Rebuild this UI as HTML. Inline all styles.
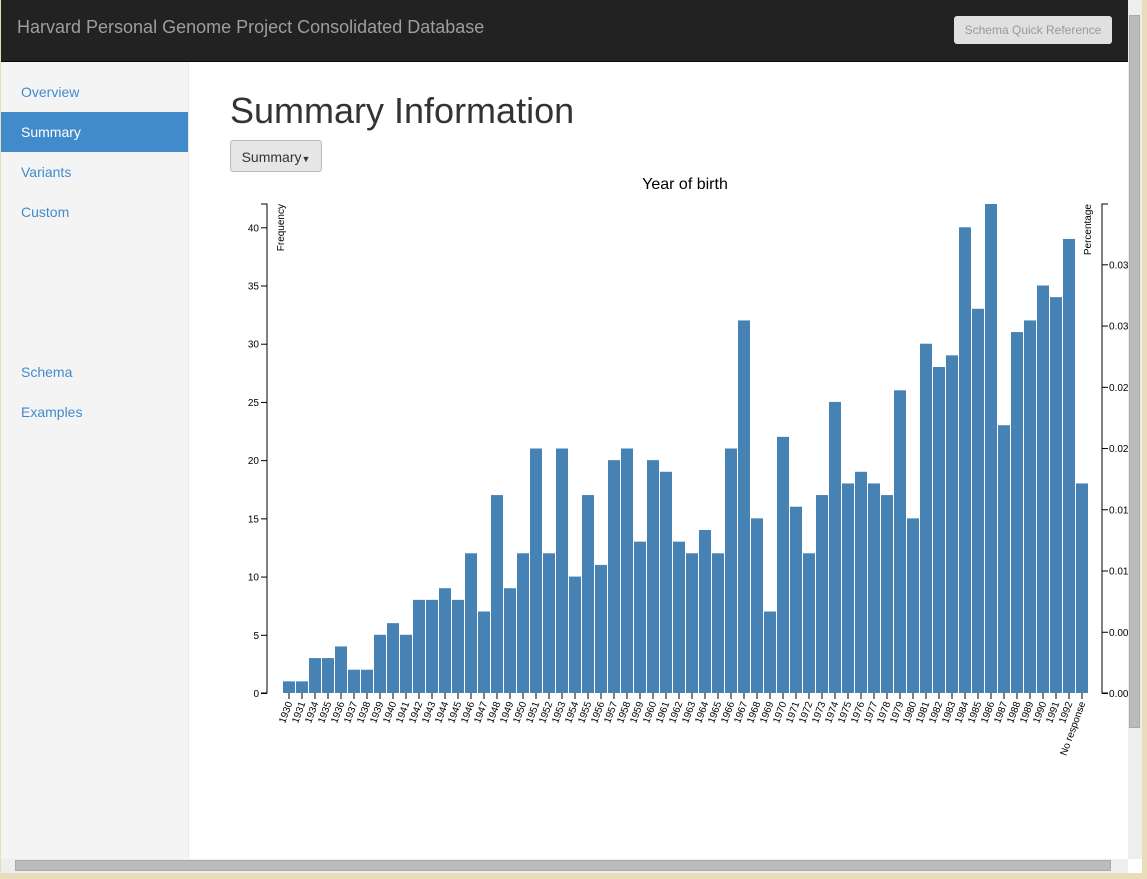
<!DOCTYPE html>
<html><head><meta charset="utf-8"><style>
body{margin:0;width:1147px;height:879px;overflow:hidden;font-family:"Liberation Sans",sans-serif;background:#e9dcb8;position:relative}
#win{position:absolute;left:0;top:0;width:1141px;height:873px;background:#fff;overflow:hidden;border-left:1px solid #e9dcb8}
#nav{position:absolute;left:0;top:0;width:1127px;height:61px;background:#222;border-bottom:1px solid #080808}
#brand{position:absolute;left:16px;top:17px;color:#9d9d9d;font-size:18px}
#sqr{position:absolute;left:953px;top:16px;width:158px;height:28px;background:#e0e0e0;border-radius:3px;color:#999;font-size:12px;line-height:29px;text-align:center}
#side{position:absolute;left:0;top:62px;width:187px;height:797px;background:#f4f4f4;border-right:1px solid #e8e8e8}
.nl{position:absolute;left:0;width:187px;height:40px;line-height:40px;padding-left:20px;box-sizing:border-box;color:#428bca;font-size:14px}
.act{background:#428bca;color:#fff}
h1{position:absolute;left:229px;top:90px;margin:0;font-weight:400;font-size:36px;color:#333}
#dd{position:absolute;left:229px;top:140px;width:92px;height:32px;border:1px solid #bbb;border-radius:3px;background:#e6e6e6;font-size:14px;line-height:32px;text-align:center;color:#333;box-sizing:border-box}
#vs{position:absolute;left:1127px;top:0;width:14px;height:859px;background:#eee}
#vthumb{position:absolute;left:1128px;top:15px;width:11px;height:713px;background:#bbb;border:1px solid #aaa;box-sizing:border-box}
#hs{position:absolute;left:0;top:859px;width:1127px;height:14px;background:#eee}
#hthumb{position:absolute;left:14px;top:860px;width:1096px;height:11px;background:#bbb;border:1px solid #aaa;box-sizing:border-box}
svg{position:absolute;left:0;top:0}
</style></head><body>
<div id="win">
<div id="nav"><div id="brand">Harvard Personal Genome Project Consolidated Database</div><div id="sqr">Schema Quick Reference</div></div>
<div id="side">
<div class="nl" style="top:10px">Overview</div>
<div class="nl act" style="top:50px">Summary</div>
<div class="nl" style="top:90px">Variants</div>
<div class="nl" style="top:130px">Custom</div>
<div class="nl" style="top:290px">Schema</div>
<div class="nl" style="top:330px">Examples</div>
</div>
<h1>Summary Information</h1>
<div id="dd">Summary<span style="font-size:9px">▼</span></div>
<svg id="chart" width="1127" height="859"></svg>
<div id="vs"></div><div id="vthumb"></div>
<div id="hs"></div><div id="hthumb"></div>
</div>
<script>
const categories=["1930","1931","1934","1935","1936","1937","1938","1939","1940","1941","1942","1943","1944","1945","1946","1947","1948","1949","1950","1951","1952","1953","1954","1955","1956","1957","1958","1959","1960","1961","1962","1963","1964","1965","1966","1967","1968","1969","1970","1971","1972","1973","1974","1975","1976","1977","1978","1979","1980","1981","1982","1983","1984","1985","1986","1987","1988","1989","1990","1991","1992","No response"];
const counts=[1,1,3,3,4,2,2,5,6,5,8,8,9,8,12,7,17,9,12,21,12,21,10,17,11,20,21,13,20,19,13,12,14,12,21,32,15,7,22,16,12,17,25,18,19,18,17,26,15,30,28,29,40,33,42,23,31,32,35,34,39,18];
const leftTicks=[0,5,10,15,20,25,30,35,40];
const rightTicks=[0,0.005,0.01,0.015,0.02,0.025,0.03,0.035];
const rightTickLabels=["0.00","0.00","0.01","0.01","0.02","0.02","0.03","0.03"];
const NS="http://www.w3.org/2000/svg";
const svg=document.getElementById('chart');
const total=counts.reduce((a,b)=>a+b,0);
const maxV=Math.max(...counts);
const y0=693,yTop=204,xL=282,xR=1088;
const step=(xR-xL)/categories.length;
function y(v){return y0-(v/maxV)*(y0-yTop);}
function yp(p){return y(p*total);}
function x(i){return xL+i*step;}
function mk(t,a,txt){const e=document.createElementNS(NS,t);for(const k in a)e.setAttribute(k,a[k]);if(txt!==undefined)e.textContent=txt;svg.appendChild(e);return e;}
let t=mk('text',{x:684,y:189,'text-anchor':'middle','font-size':16,fill:'#000'},'Year of birth');

counts.forEach((v,i)=>{const r=mk('rect',{x:x(i),y:y(v),width:step-1,height:y0-y(v),fill:'#4682b4'});


const tk=mk('line',{x1:x(i)+step/2-0.5,x2:x(i)+step/2-0.5,y1:y0,y2:y0+6,stroke:'#000'});
const lx=x(i)+step/2+3,ly=y0+10;
const lb=mk('text',{x:lx,y:ly,'text-anchor':'end','font-size':10,fill:'#000',transform:`rotate(-70 ${lx} ${ly})`},categories[i]);

});
// left axis
let la=mk('path',{d:`M260,${yTop}H266V${y0}H260`,fill:'none',stroke:'#000'});

leftTicks.forEach(v=>{mk('line',{x1:260,x2:266,y1:y(v)+.5,y2:y(v)+.5,stroke:'#000'});
const l=mk('text',{x:258,y:y(v)+4,'text-anchor':'end','font-size':10,fill:'#000'},v);
});
let ft=mk('text',{x:0,y:0,'font-size':10,'text-anchor':'end',transform:'translate(283,204) rotate(-90)'},'Frequency');

// right axis
let ra=mk('path',{d:`M1107,${yTop}H1101V${y0}H1107`,fill:'none',stroke:'#000'});

rightTicks.forEach((p,i)=>{mk('line',{x1:1101,x2:1107,y1:yp(p)+.5,y2:yp(p)+.5,stroke:'#000'});
const l=mk('text',{x:1108,y:yp(p)+4,'font-size':10,fill:'#000'},rightTickLabels[i]);
});
let pt=mk('text',{x:0,y:0,'font-size':10,'text-anchor':'end',transform:'translate(1090,204) rotate(-90)'},'Percentage');

</script>
</body></html>
